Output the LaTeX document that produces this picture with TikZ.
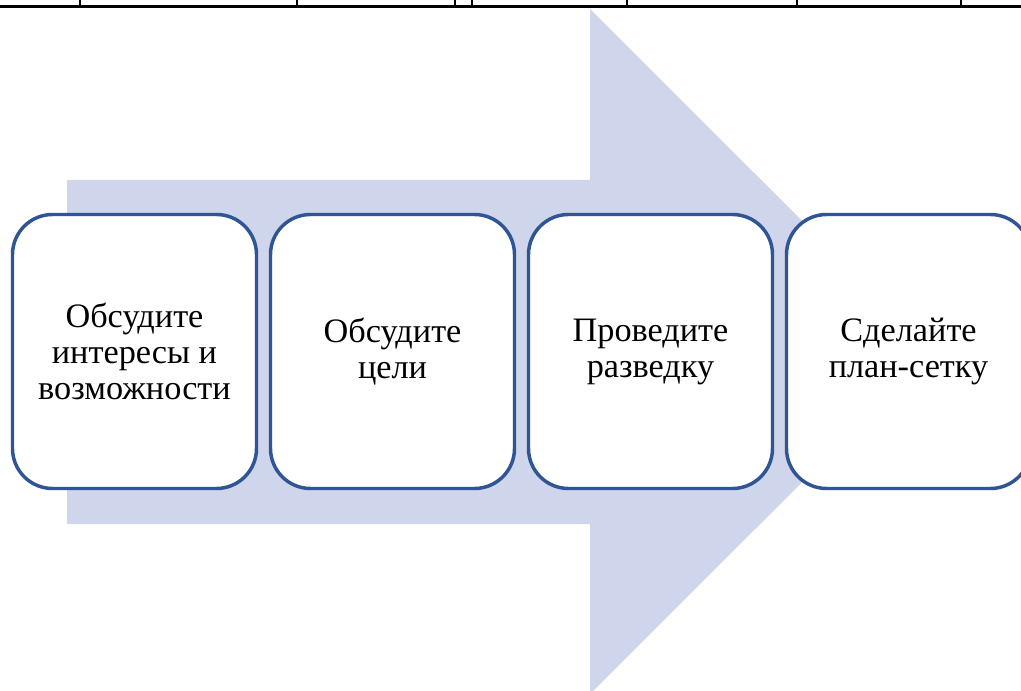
\documentclass[tikz,border=0pt]{standalone}
\usepackage{fontspec}
\setmainfont{Liberation Serif}
\definecolor{arrowfill}{RGB}{207,213,234}
\definecolor{boxline}{RGB}{47,85,151}
\begin{document}
\begin{tikzpicture}[x=0.75pt,y=-0.75pt,
  stepbox/.style={draw=boxline,line width=2.6pt,fill=white,rounded corners=30pt,
    minimum width=244*0.75pt,minimum height=274*0.75pt,inner sep=0pt,
    align=center,font=\fontsize{25.7}{27}\selectfont},
  rule/.style={line width=1.2pt,black}]
\useasboundingbox (0,0) rectangle (1021,691);
\clip (0,0) rectangle (1021,691);
% table fragment at top
\coordinate (tl) at (0,6.5);
\coordinate (tr) at (1021,6.5);
\draw[line width=1.7pt] (tl) -- (tr);
\foreach \xx in {80,297,455,627,797,961}{
  \draw[rule] (\xx,0) -- (\xx,6.5);
}
\draw[line width=1pt] (472,0) -- (472,5.5);
\draw[line width=0.8pt] (469.5,5.2) -- (474.5,5.2);
% big arrow
\fill[arrowfill] (67,180) -- (590,180) -- (590,9) -- (933,351.5) -- (590,694) -- (590,524) -- (67,524) -- cycle;
% boxes
\node[stepbox] (b1) at (134.5,351.5) {Обсудите\\интересы и\\возможности};
\node[stepbox] (b2) at (392.5,351.5) {Обсудите\\цели};
\node[stepbox] (b3) at (650.5,351.5) {Проведите\\разведку};
\node[stepbox] (b4) at (908.5,351.5) {Сделайте\\план-сетку};
\end{tikzpicture}
\end{document}
